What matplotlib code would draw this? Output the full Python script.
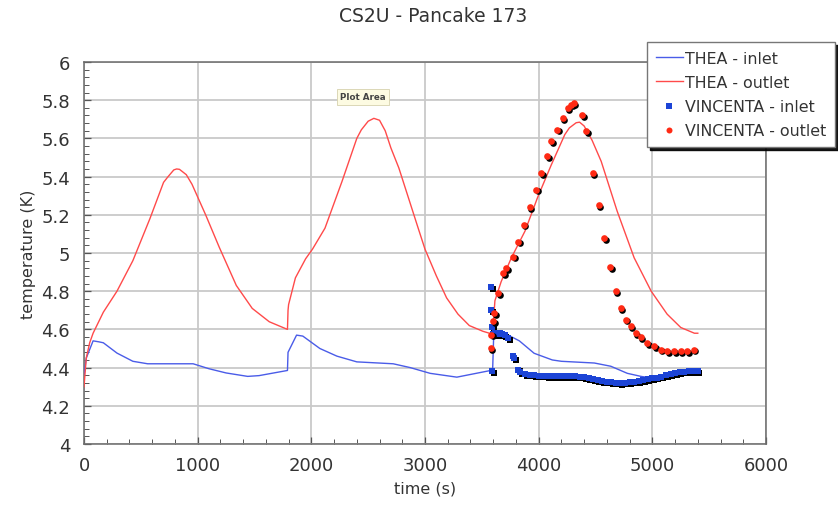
import matplotlib
matplotlib.use("Agg")
import matplotlib.pyplot as plt
import matplotlib.transforms as mtransforms
from matplotlib.ticker import MultipleLocator

# ---------------- data ----------------
thea_out_t = [0, 20, 50, 80, 170, 290, 430, 580, 700, 740, 790, 815, 840, 900, 950, 1070, 1190,
              1340, 1480, 1630, 1790, 1795, 1800, 1860, 1950, 2010, 2120, 2270, 2400, 2440,
              2500, 2550, 2600, 2650, 2700, 2770, 2940, 3000, 3100, 3190, 3290, 3390, 3510,
              3595, 3615, 3670, 3760, 3880, 3990, 4110, 4230, 4270, 4330, 4360, 4400, 4470,
              4550, 4690, 4840, 4990, 5130, 5250, 5370, 5400]
thea_out_T = [4.30, 4.45, 4.53, 4.58, 4.69, 4.80, 4.96, 5.18, 5.37, 5.40, 5.435, 5.44, 5.438,
              5.41, 5.36, 5.20, 5.03, 4.83, 4.71, 4.64, 4.60, 4.70, 4.73, 4.87, 4.97, 5.02,
              5.13, 5.375, 5.60, 5.645, 5.69, 5.705, 5.695, 5.64, 5.55, 5.445, 5.13, 5.02,
              4.88, 4.765, 4.68, 4.62, 4.59, 4.575, 4.75, 4.85, 4.975, 5.115, 5.29, 5.46, 5.62,
              5.655, 5.682, 5.685, 5.665, 5.59, 5.48, 5.22, 4.975, 4.80, 4.68, 4.61, 4.58, 4.58]

thea_in_t = [0, 20, 80, 130, 170, 290, 430, 560, 960, 1100, 1250, 1440, 1540, 1790, 1795,
             1870, 1925, 2075, 2225, 2400, 2720, 2870, 3045, 3280, 3595, 3605, 3700, 3830,
             3960, 4120, 4200, 4490, 4635, 4780, 4900, 5000]
thea_in_T = [4.36, 4.45, 4.54, 4.535, 4.53, 4.476, 4.433, 4.42, 4.42, 4.394, 4.372, 4.354,
             4.358, 4.385, 4.48, 4.57, 4.565, 4.50, 4.46, 4.43, 4.42, 4.40, 4.37, 4.35, 4.387,
             4.58, 4.58, 4.54, 4.475, 4.44, 4.433, 4.424, 4.407, 4.37, 4.354, 4.345]

vin_out_t = [3579, 3584, 3599, 3608, 3643, 3687, 3716, 3774, 3818, 3870, 3920, 3978, 4022,
             4075, 4110, 4162, 4212, 4256, 4285, 4308, 4381, 4419, 4475, 4527, 4577, 4629,
             4679, 4722, 4766, 4810, 4854, 4898, 4956, 5015, 5073, 5131, 5190, 5248, 5306, 5365]
vin_out_T = [4.503, 4.572, 4.642, 4.686, 4.79, 4.895, 4.92, 4.98, 5.06, 5.148, 5.239, 5.331,
             5.419, 5.506, 5.585, 5.646, 5.707, 5.759, 5.776, 5.785, 5.721, 5.637, 5.419, 5.25,
             5.079, 4.925, 4.80, 4.712, 4.651, 4.616, 4.581, 4.558, 4.529, 4.511, 4.494, 4.485,
             4.485, 4.485, 4.485, 4.494]

vin_in_t = [3590, 3585, 3585, 3590, 3600, 3620, 3640, 3660, 3680, 3700, 3730, 3770, 3785,
            3820, 3840, 3880, 3920, 3960, 4000, 4040, 4080, 4120, 4160, 4200, 4240, 4280,
            4320, 4360, 4400, 4440, 4480, 4520, 4560, 4600, 4640, 4680, 4720, 4760, 4800,
            4840, 4880, 4920, 4960, 5000, 5040, 5080, 5120, 5160, 5200, 5240, 5280, 5320,
            5360, 5400]
vin_in_T = [4.38, 4.82, 4.70, 4.61, 4.575, 4.58, 4.575, 4.58, 4.575, 4.57, 4.555, 4.46, 4.45,
            4.39, 4.375, 4.365, 4.362, 4.36, 4.358, 4.357, 4.356, 4.356, 4.355, 4.355, 4.355,
            4.354, 4.354, 4.353, 4.35, 4.345, 4.34, 4.335, 4.33, 4.326, 4.322, 4.32, 4.318,
            4.32, 4.322, 4.326, 4.33, 4.335, 4.34, 4.343, 4.347, 4.352, 4.36, 4.366, 4.372,
            4.376, 4.378, 4.38, 4.381, 4.381]

title = "CS2U - Pancake 173"
xlabel = "time (s)"
ylabel = "temperature (K)"
labels = ["THEA - inlet", "THEA - outlet", "VINCENTA - inlet", "VINCENTA - outlet"]

# ---------------- figure ----------------
fig = plt.figure(figsize=(8.38, 5.10), dpi=100)
ax = fig.add_axes([84 / 838, 1 - 445 / 510, (766 - 84) / 838, (445 - 63) / 510])

txt = "#333333"
ax.set_xlim(0, 6000)
ax.set_ylim(4, 6)
ax.xaxis.set_major_locator(MultipleLocator(1000))
ax.xaxis.set_minor_locator(MultipleLocator(200))
ax.yaxis.set_minor_locator(MultipleLocator(0.04))
ax.set_yticks([4, 4.2, 4.4, 4.6, 4.8, 5, 5.2, 5.4, 5.6, 5.8, 6])
ax.set_yticklabels(["4", "4.2", "4.4", "4.6", "4.8", "5", "5.2", "5.4", "5.6", "5.8", "6"])
ax.tick_params(which="both", direction="in", colors="#555555", labelcolor=txt,
               labelsize=13, top=False, right=False)
ax.tick_params(which="major", length=5, width=0.9)
ax.tick_params(which="minor", length=3.5, width=0.7)
ax.tick_params(axis="x", pad=9)
ax.tick_params(axis="y", pad=10)
ax.grid(True, which="major", color="#c9c9c9", lw=1.3)
ax.set_axisbelow(True)
for s in ax.spines.values():
    s.set_color("#6a6a6a")
    s.set_linewidth(1.1)

ax.plot(thea_in_t, thea_in_T, color="#4a5ce8", lw=1.0, label=labels[0], zorder=3)
ax.plot(thea_out_t, thea_out_T, color="#ff4a4a", lw=1.0, label=labels[1], zorder=3)

shadow_tr = mtransforms.offset_copy(ax.transData, fig=fig, x=1.6, y=-1.6, units="dots")
ax.plot(vin_in_t, vin_in_T, ls="none", marker="s", ms=4.6, mew=0, color="black",
        transform=shadow_tr, zorder=4)
ax.plot(vin_in_t, vin_in_T, ls="none", marker="s", ms=4.6, mew=0, color="#1c44d6",
        label=labels[2], zorder=5)
ax.plot(vin_out_t, vin_out_T, ls="none", marker="o", ms=4.8, mew=0, color="black",
        transform=shadow_tr, zorder=6)
ax.plot(vin_out_t, vin_out_T, ls="none", marker="o", ms=4.8, mew=0, color="#ff2a14",
        label=labels[3], zorder=7)

ax.set_xlabel(xlabel, fontsize=11.5, color=txt, labelpad=4)
ax.set_ylabel(ylabel, fontsize=11.5, color=txt, labelpad=4)
fig.text(433 / 838, 1 - 17 / 510, title, ha="center", va="center", fontsize=13.5, color=txt)

leg = ax.legend(loc="upper right", bbox_to_anchor=(835 / 838, 1 - 43 / 510),
                bbox_transform=fig.transFigure, borderaxespad=0, fontsize=11.4,
                frameon=True, fancybox=False, shadow={"color": "black", "alpha": 0.9},
                handlelength=1.7, handletextpad=0.15, labelspacing=0.58, borderpad=0.55,
                markerscale=0.9, numpoints=1)
leg.get_frame().set_edgecolor("#777777")
leg.get_frame().set_linewidth(1.0)
leg.get_frame().set_alpha(1)
for t in leg.get_texts():
    t.set_color(txt)

fig.text(363 / 838, 1 - 98 / 510, "Plot Area", ha="center", va="center", fontsize=6.3,
         color="#444444", fontweight="bold",
         bbox=dict(boxstyle="square,pad=0.35", fc="#fdfbe2", ec="#d6d2ae", lw=0.6))

fig.savefig("out.png", dpi=100)
